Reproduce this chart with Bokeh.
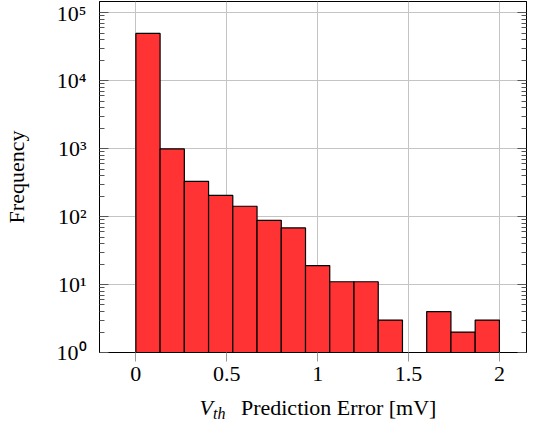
import numpy as np
from bokeh.plotting import figure
from bokeh.layouts import column
from bokeh.models import Range1d, FixedTicker, LogAxis, BasicTickFormatter
from bokeh.core.properties import value
from bokeh.embed import file_html
from bokeh.resources import INLINE

# ---- data ----
bin_start = 0.0
bin_stop = 2.0
n_bins = 15
counts = [49500, 990, 330, 205, 142, 88, 68, 19, 11, 11, 3, 1, 4, 2, 3]

xticks = [0, 0.5, 1, 1.5, 2]
xtick_labels = ["0", "0.5", "1", "1.5", "2"]
yticks = [1, 10, 100, 1000, 10000, 100000]
ytick_labels = ["10\u2070", "10\u00b9", "10\u00b2", "10\u00b3", "10\u2074", "10\u2075"]
y_label = "Frequency"
x_label_var = "V"
x_label_sub = "th"
x_label_rest = "Prediction Error [mV]"

edges = np.linspace(bin_start, bin_stop, n_bins + 1)
FONT = "Liberation Serif"
X_RANGE = Range1d(-0.2, 2.149)

p = figure(width=530, height=392,
           x_range=X_RANGE,
           y_range=Range1d(1, 10 ** 5.165),
           y_axis_type="log",
           output_backend="svg", toolbar_location=None,
           min_border_left=95, min_border_right=4,
           min_border_top=1, min_border_bottom=40)

p.background_fill_color = "white"
p.border_fill_color = "white"
p.outline_line_color = "black"
p.outline_line_width = 1

p.quad(left=edges[:-1], right=edges[1:], bottom=1, top=counts,
       fill_color="#ff3333", line_color="black", line_width=1.2)

# grids
p.xgrid.grid_line_color = "#c4c4c4"
p.ygrid.grid_line_color = "#c4c4c4"

# x axis
xa = p.xaxis[0]
xa.ticker = FixedTicker(ticks=xticks, minor_ticks=[])
xa.major_label_overrides = {t: l for t, l in zip(xticks, xtick_labels)}
xa.major_tick_in = 0
xa.major_tick_out = 9
xa.major_tick_line_color = "#999999"
xa.minor_tick_line_color = None
xa.axis_line_color = "black"
xa.major_label_text_font = FONT
xa.major_label_text_font_size = "22px"
xa.major_label_text_color = "black"
xa.major_label_standoff = 5

# y axis ticks
minor_y = [m * 10 ** k for k in range(0, 5) for m in range(2, 10)]
ya = p.yaxis[0]
ya.ticker = FixedTicker(ticks=yticks, minor_ticks=minor_y)
ya.major_label_overrides = {t: l for t, l in zip(yticks, ytick_labels)}
ya.major_tick_in = 9
ya.major_tick_out = 0
ya.minor_tick_in = 5
ya.minor_tick_out = 0
ya.major_tick_line_color = "#555555"
ya.minor_tick_line_color = "#555555"
ya.axis_line_color = "black"
ya.major_label_text_font = FONT
ya.major_label_text_font_size = "22px"
ya.major_label_text_color = "black"
ya.major_label_standoff = 13
ya.axis_label = y_label
ya.axis_label_text_font = FONT
ya.axis_label_text_font_size = "22px"
ya.axis_label_text_font_style = "normal"
ya.axis_label_text_color = "black"
ya.axis_label_standoff = 25

# right axis (ticks only)
ra = LogAxis(ticker=FixedTicker(ticks=yticks, minor_ticks=minor_y),
             formatter=BasicTickFormatter())
ra.major_tick_in = 9
ra.major_tick_out = 0
ra.minor_tick_in = 5
ra.minor_tick_out = 0
ra.major_tick_line_color = "#555555"
ra.minor_tick_line_color = "#555555"
ra.axis_line_color = "black"
ra.major_label_text_font_size = "1px"
ra.major_label_text_alpha = 0
ra.major_label_standoff = 0
p.add_layout(ra, "right")

# ---- x-axis title strip (italic V with subscript th) ----
q = figure(width=530, height=30, x_range=X_RANGE, y_range=Range1d(0, 1),
           output_backend="svg", toolbar_location=None,
           min_border_left=95, min_border_right=4,
           min_border_top=0, min_border_bottom=0)
q.axis.visible = False
q.grid.visible = False
q.outline_line_color = None
q.background_fill_color = "white"
q.border_fill_color = "white"

q.text(x=[0.35], y=[0.5], text=[x_label_var], text_font=value(FONT),
       text_font_style="italic", text_font_size="22px", text_color="black",
       text_baseline="middle", text_align="left")
q.text(x=[0.425], y=[0.3], text=[x_label_sub], text_font=value(FONT),
       text_font_style="italic", text_font_size="16px", text_color="black",
       text_baseline="middle", text_align="left")
q.text(x=[0.578], y=[0.5], text=[x_label_rest], text_font=value(FONT),
       text_font_style="normal", text_font_size="22px", text_color="black",
       text_baseline="middle", text_align="left")

layout = column(p, q, spacing=0)
open("out.html", "w").write(file_html(layout, INLINE))
